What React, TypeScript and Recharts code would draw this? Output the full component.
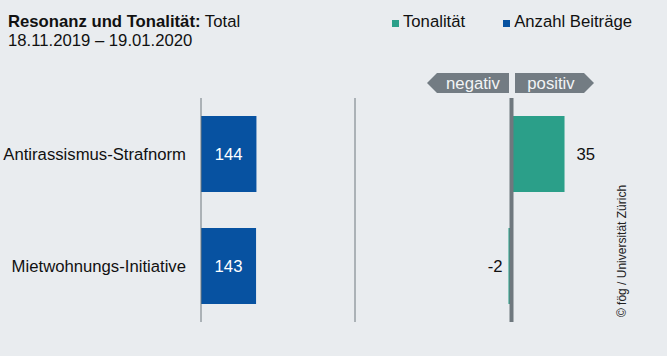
import React from 'react';
import {
  BarChart,
  Bar,
  XAxis,
  YAxis,
  ReferenceLine,
  LabelList,
} from 'recharts';

// data
const categories = ['Antirassismus-Strafnorm', 'Mietwohnungs-Initiative'];
const anzahlBeitraege = [144, 143];
const tonalitaet = [35, -2];

const BG = '#e9ecef';
const BLUE = '#0752a1';
const GREEN = '#2b9f89';
const GRAY = '#6f787e';
const FONT = '"Liberation Sans", Arial, sans-serif';
const FS = 16.7;

const countData = categories.map((name, i) => ({ name, value: anzahlBeitraege[i] }));
const toneData = categories.map((name, i) => ({ name, value: tonalitaet[i] }));

const ToneLabel = (props: any) => {
  const { x, y, width, height, value } = props;
  const left = Math.min(x, x + width);
  const right = Math.max(x, x + width);
  const cy = y + height / 2;
  if (value >= 0) {
    return (
      <text x={right + 12} y={cy} dy="0.35em" textAnchor="start" fontSize={FS} fill="#111">
        {value}
      </text>
    );
  }
  return (
    <text x={left - 6} y={cy} dy="0.35em" textAnchor="end" fontSize={FS} fill="#111">
      {value}
    </text>
  );
};

const App: React.FC = () => {
  return (
    <div
      style={{
        position: 'absolute',
        left: 0,
        top: 0,
        width: 667,
        height: 356,
        background: BG,
        fontFamily: FONT,
        color: '#111',
        overflow: 'hidden',
      }}
    >
      {/* title */}
      <div style={{ position: 'absolute', left: 8, top: 12, fontSize: FS, lineHeight: '19px' }}>
        <div>
          <b>Resonanz und Tonalität:</b> Total
        </div>
        <div>18.11.2019 – 19.01.2020</div>
      </div>

      {/* legend */}
      <div style={{ position: 'absolute', left: 392, top: 12, fontSize: FS, lineHeight: '19px', display: 'flex' }}>
        <span style={{ display: 'flex', alignItems: 'center' }}>
          <span style={{ width: 7, height: 7, background: GREEN, marginRight: 4, marginTop: 4 }} />
          Tonalität
        </span>
        <span style={{ display: 'flex', alignItems: 'center', marginLeft: 38 }}>
          <span style={{ width: 7, height: 7, background: BLUE, marginRight: 4, marginTop: 4 }} />
          Anzahl Beiträge
        </span>
      </div>

      {/* Anzahl Beiträge */}
      <div style={{ position: 'absolute', left: 0, top: 0 }}>
        <BarChart
          width={360}
          height={356}
          data={countData}
          layout="vertical"
          margin={{ top: 98, right: 5, bottom: 34, left: 0 }}
          barCategoryGap={18}
          style={{ fontFamily: FONT }}
        >
          <XAxis type="number" domain={[0, 400]} hide />
          <YAxis
            type="category"
            dataKey="name"
            width={201}
            tickLine={false}
            tickSize={0}
            tickMargin={15}
            axisLine={{ stroke: GRAY, strokeWidth: 1 }}
            tick={{ fill: '#111', fontSize: FS }}
          />
          <ReferenceLine x={400} stroke={GRAY} strokeWidth={1} />
          <Bar dataKey="value" fill={BLUE} isAnimationActive={false}>
            <LabelList dataKey="value" position="center" fill="#fff" fontSize={FS} />
          </Bar>
        </BarChart>
      </div>

      {/* Tonalität */}
      <div style={{ position: 'absolute', left: 360, top: 0 }}>
        <BarChart
          width={303}
          height={356}
          data={toneData}
          layout="vertical"
          margin={{ top: 98, right: 0, bottom: 34, left: 0 }}
          barCategoryGap={18}
          style={{ fontFamily: FONT }}
        >
          <XAxis type="number" domain={[-100, 100]} hide />
          <YAxis type="category" dataKey="name" hide width={0} />
          <Bar dataKey="value" fill={GREEN} isAnimationActive={false}>
            <LabelList dataKey="value" content={ToneLabel} />
          </Bar>
          <ReferenceLine x={0} stroke={GRAY} strokeWidth={4} />
        </BarChart>
      </div>

      {/* negativ / positiv badges + copyright */}
      <svg width={667} height={356} style={{ position: 'absolute', left: 0, top: 0, pointerEvents: 'none' }}>
        <polygon points="427,83 437,73 509,73 509,93 437,93" fill="#737c83" />
        <text x={473} y={83} dy="0.35em" textAnchor="middle" fontSize={FS} fill="#f2f4f6" fontFamily={FONT}>
          negativ
        </text>
        <polygon points="515,73 584,73 594,83 584,93 515,93" fill="#737c83" />
        <text x={551} y={83} dy="0.35em" textAnchor="middle" fontSize={FS} fill="#f2f4f6" fontFamily={FONT}>
          positiv
        </text>
        <text
          x={0}
          y={0}
          transform="translate(626,251) rotate(-90)"
          textAnchor="middle"
          fontSize={12}
          fill="#222"
          fontFamily={FONT}
        >
          © fög / Universität Zürich
        </text>
      </svg>
    </div>
  );
};

export default App;
